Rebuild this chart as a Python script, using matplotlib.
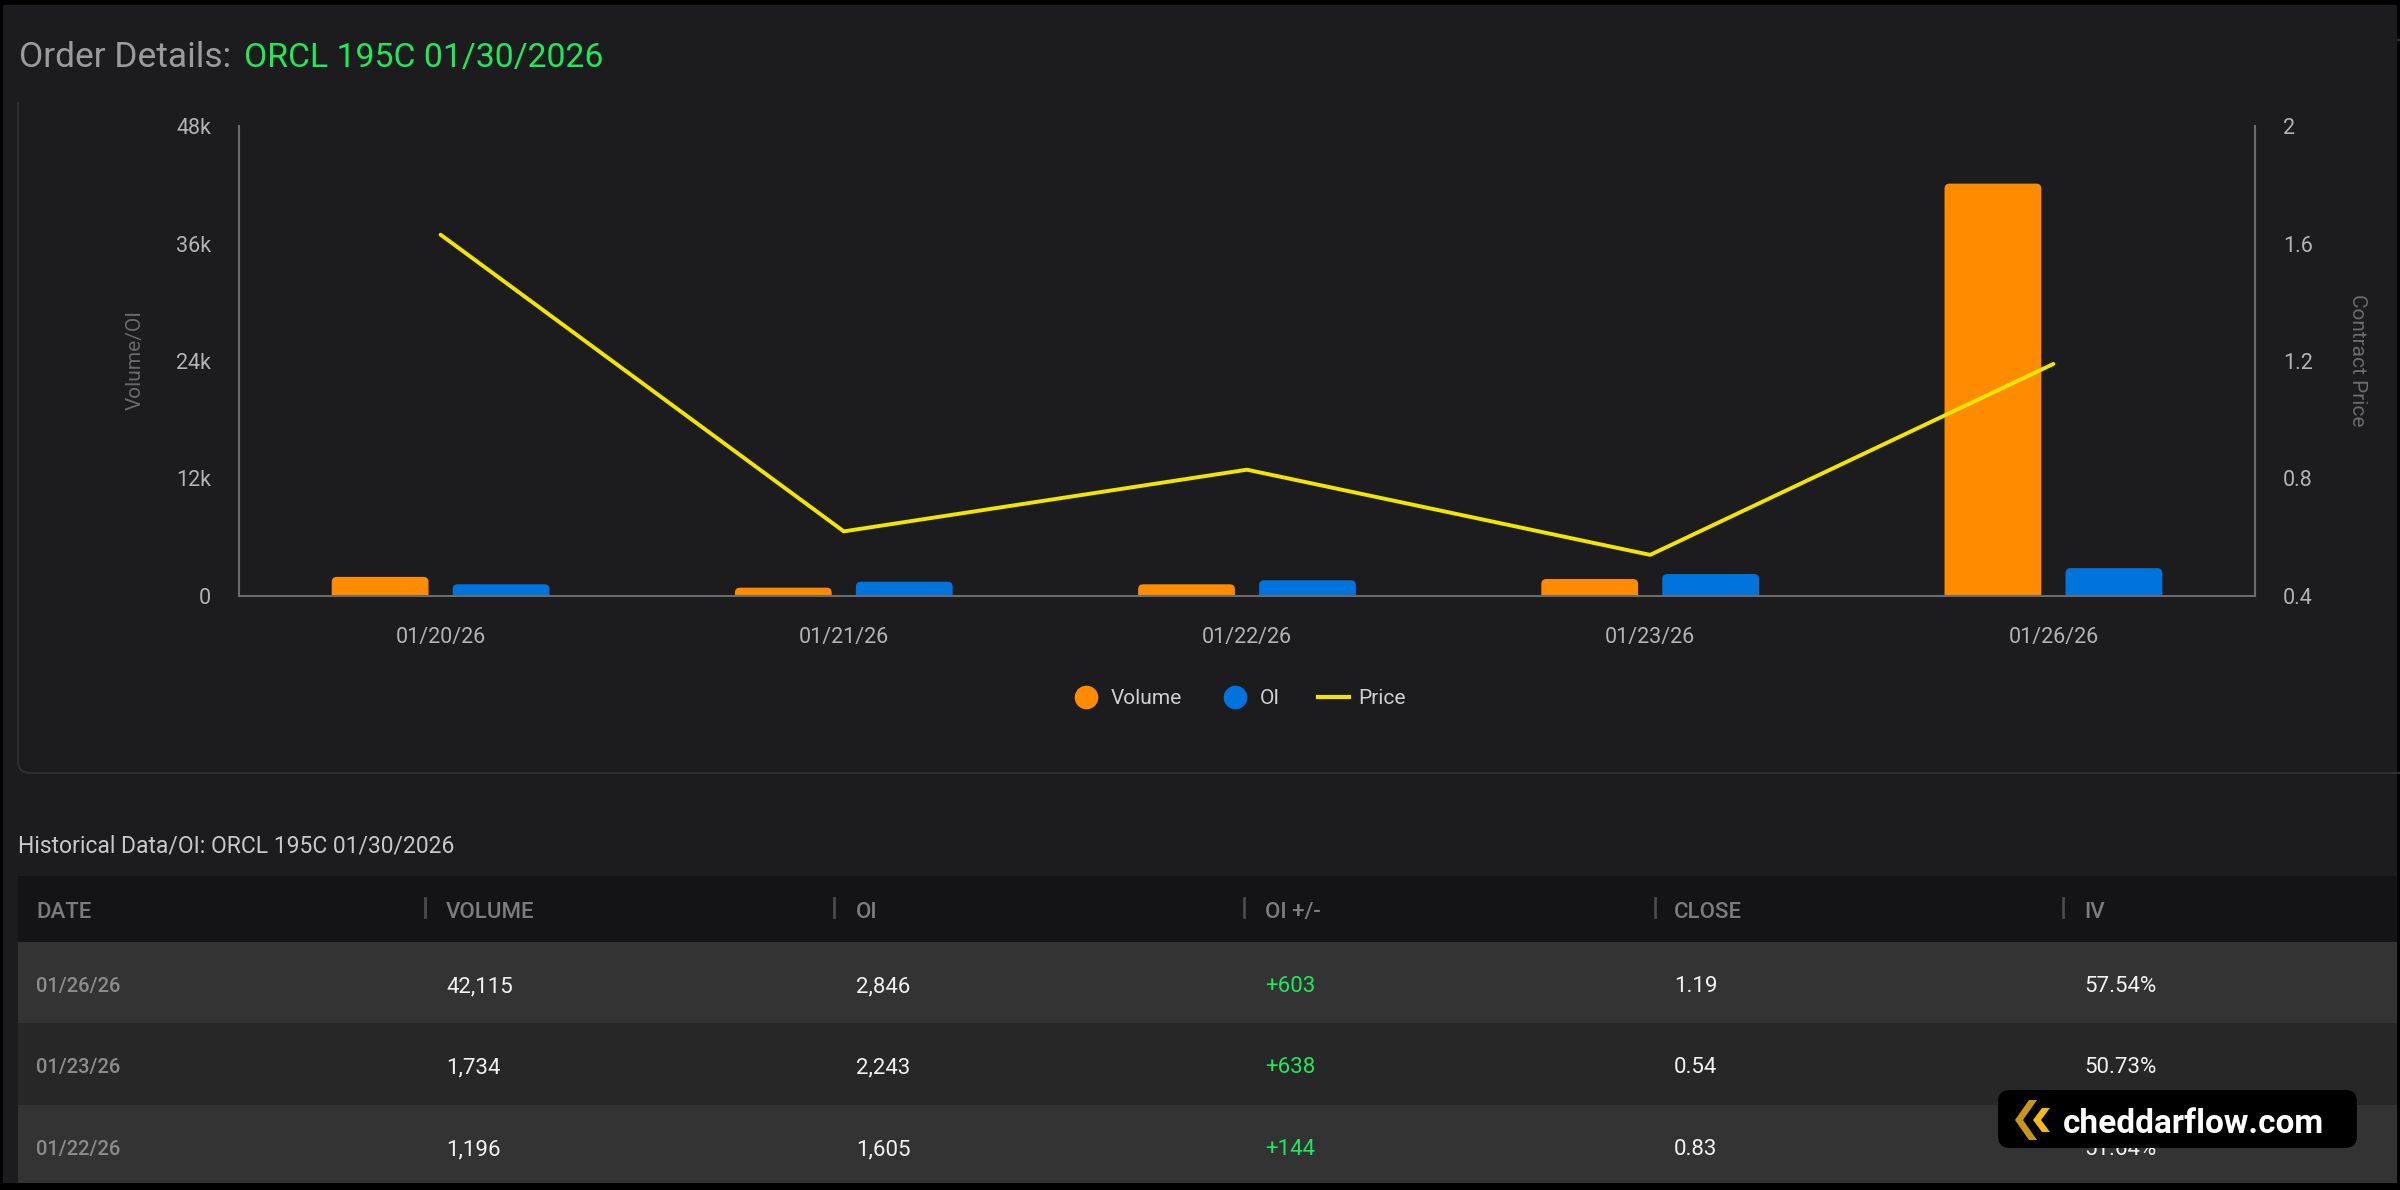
import matplotlib
matplotlib.use("Agg")
import matplotlib.pyplot as plt
import numpy as np
from matplotlib.patches import Rectangle, FancyBboxPatch, Polygon
from matplotlib.lines import Line2D
from matplotlib.transforms import Affine2D

plt.rcParams['font.family'] = ['Roboto', 'DejaVu Sans']

W, H = 2400, 1190

# chart data
dates = ['01/20/26', '01/21/26', '01/22/26', '01/23/26', '01/26/26']
volume = [1950, 850, 1196, 1734, 42115]
oi = [1200, 1461, 1605, 2243, 2846]
price = [1.63, 0.62, 0.83, 0.54, 1.19]

# table extras
iv = ['51.64%', '50.73%', '57.54%']   # 01/22, 01/23, 01/26
table_headers = ['DATE', 'VOLUME', 'OI', 'OI +/-', 'CLOSE', 'IV']
vol_ticks = [0, 12000, 24000, 36000, 48000]
vol_labels = ['0', '12k', '24k', '36k', '48k']
price_ticks = [0.4, 0.8, 1.2, 1.6, 2.0]
price_labels = ['0.4', '0.8', '1.2', '1.6', '2']

BG = '#1c1c1e'
ORANGE = '#ff8c00'
BLUE = '#0074dc'
YELLOW = '#f2e600'
GREEN = '#1fe85c'
SPINE = '#6b6b6b'

fig = plt.figure(figsize=(W / 100, H / 100), dpi=100, facecolor='black')
# pixel coords, y going down
px = Affine2D().scale(1 / W, -1 / H).translate(0, 1) + fig.transFigure

fig.add_artist(Rectangle((3, 5), 2394, 1178, transform=px, fc=BG, ec='none', zorder=-10))
# chart card border (top part hidden under the title strip)
fig.add_artist(FancyBboxPatch((18, 40), 2420, 733, boxstyle='round,pad=0,rounding_size=12',
                              transform=px, fc='none', ec='#2f2f31', lw=1.5, zorder=-9))
fig.add_artist(Rectangle((3, 5), 2394, 97, transform=px, fc=BG, ec='none', zorder=-8))

# title
fig.text(19, 67, 'Order Details:', transform=px, fontsize=25.5, color='#9b9b9b', va='baseline')
fig.text(244, 67, 'ORCL 195C 01/30/2026', transform=px, fontsize=24.3, color=GREEN, va='baseline')

# ---- chart ----
ax = fig.add_axes([239 / W, 1 - 596 / H, (2255 - 239) / W, 470 / H])
ax.set_facecolor('none')
x = np.arange(len(dates))
bw, off = 0.24, 0.15
b1 = ax.bar(x - off, volume, bw, color=ORANGE)
b2 = ax.bar(x + off, oi, bw, color=BLUE)
ax.set_xlim(-0.5, len(dates) - 0.5)
ax.set_ylim(0, 48000)

# swap the square bars for ones with rounded tops
xpp = (len(dates)) / 2016
ypp = 48000 / 470
r = 5
for bars in (b1, b2):
    for b in bars:
        b.set_visible(False)
        p = FancyBboxPatch((b.get_x(), -r * ypp), b.get_width(), b.get_height() + r * ypp,
                           boxstyle=f'round,pad=0,rounding_size={r * xpp}',
                           mutation_aspect=ypp / xpp, fc=b.get_facecolor(), ec='none')
        ax.add_patch(p)

ax.set_xticks(x, dates)
ax.set_yticks(vol_ticks, vol_labels)
ax.tick_params(length=0, labelcolor='#b3b3b3', labelsize=15.5)
ax.tick_params(axis='y', pad=20)
ax.tick_params(axis='x', pad=22)
for s in ('top', 'right'):
    ax.spines[s].set_visible(False)
for s in ('left', 'bottom'):
    ax.spines[s].set_color(SPINE)
    ax.spines[s].set_linewidth(1.5)

ax2 = ax.twinx()
ax2.plot(x, price, color=YELLOW, lw=2.8, solid_capstyle='round')
ax2.set_ylim(0.4, 2.0)
ax2.set_yticks(price_ticks, price_labels)
ax2.tick_params(length=0, labelcolor='#b3b3b3', labelsize=15.5, pad=20)
for s in ('top', 'left', 'bottom'):
    ax2.spines[s].set_visible(False)
ax2.spines['right'].set_color(SPINE)
ax2.spines['right'].set_linewidth(1.5)

fig.text(135, 360, 'Volume/OI', transform=px, rotation=90, ha='center', va='center',
         fontsize=15, color='#6a6a6a')
fig.text(2358, 360, 'Contract Price', transform=px, rotation=270, ha='center', va='center',
         fontsize=15, color='#6a6a6a')

handles = [
    Line2D([], [], marker='o', ls='none', markersize=16, color=ORANGE, label='Volume'),
    Line2D([], [], marker='o', ls='none', markersize=16, color=BLUE, label='OI'),
    Line2D([], [], color=YELLOW, lw=3, label='Price'),
]
ax.legend(handles=handles, loc='center', bbox_to_anchor=(1238, 699), bbox_transform=px,
          ncol=3, frameon=False, fontsize=15, labelcolor='#d0d0d0', handlelength=1.5,
          handletextpad=0.45, columnspacing=1.8)

# ---- table ----
fig.text(18, 853, 'Historical Data/OI: ORCL 195C 01/30/2026', transform=px, fontsize=16.5,
         color='#c8c8c8', va='baseline')

col_x = [36, 446, 856, 1265, 1674, 2084]
sep_x = [425, 834, 1244, 1655, 2063]
fig.add_artist(Rectangle((18, 876), 2379, 66, transform=px, fc='#141416', ec='none', zorder=-5))
for cx, h in zip(col_x, table_headers):
    fig.text(cx, 918, h, transform=px, fontsize=16, color='#7c7c7c', weight='medium', va='baseline')
for sx in sep_x:
    fig.add_artist(Line2D([sx, sx], [898, 917], transform=px, color='#4a4a4a', lw=2))

row_top = [942, 1023, 1105]
row_h = [81, 82, 78]
row_bg = ['#333333', '#272727', '#333333']
row_base = [992, 1073, 1155]
for i in range(3):
    k = len(dates) - 1 - i
    cells = [
        f'{volume[k]:,}',
        f'{oi[k]:,}',
        f'{oi[k] - oi[k - 1]:+d}',
        f'{price[k]:.2f}',
        iv[2 - i],
    ]
    fig.add_artist(Rectangle((18, row_top[i]), 2379, row_h[i], transform=px,
                             fc=row_bg[i], ec='none', zorder=-5))
    fig.text(col_x[0], row_base[i], dates[k], transform=px, fontsize=14.5, color='#8c8c8c',
             weight='medium', va='baseline')
    for j, c in enumerate(cells):
        fig.text(col_x[j + 1], row_base[i], c, transform=px, fontsize=16,
                 color=GREEN if j == 2 else '#f2f2f2', va='baseline')

# watermark
fig.add_artist(FancyBboxPatch((1998, 1090), 359, 58, boxstyle='round,pad=0,rounding_size=12',
                              transform=px, fc='black', ec='none', zorder=10))
fig.add_artist(Polygon([(2029, 1100), (2037, 1100), (2023, 1120), (2037, 1140), (2029, 1140),
                        (2015, 1120)], transform=px, fc='#c9951a', ec='none', zorder=11))
fig.add_artist(Polygon([(2042, 1108), (2050, 1108), (2041, 1120), (2050, 1132), (2042, 1132),
                        (2033, 1120)], transform=px, fc='#f2b81c', ec='none', zorder=11))
fig.text(2063, 1133, 'cheddarflow.com', transform=px, fontsize=24, weight='bold',
         color='white', va='baseline', zorder=12)

fig.savefig('out.png', dpi=100, facecolor=fig.get_facecolor())
